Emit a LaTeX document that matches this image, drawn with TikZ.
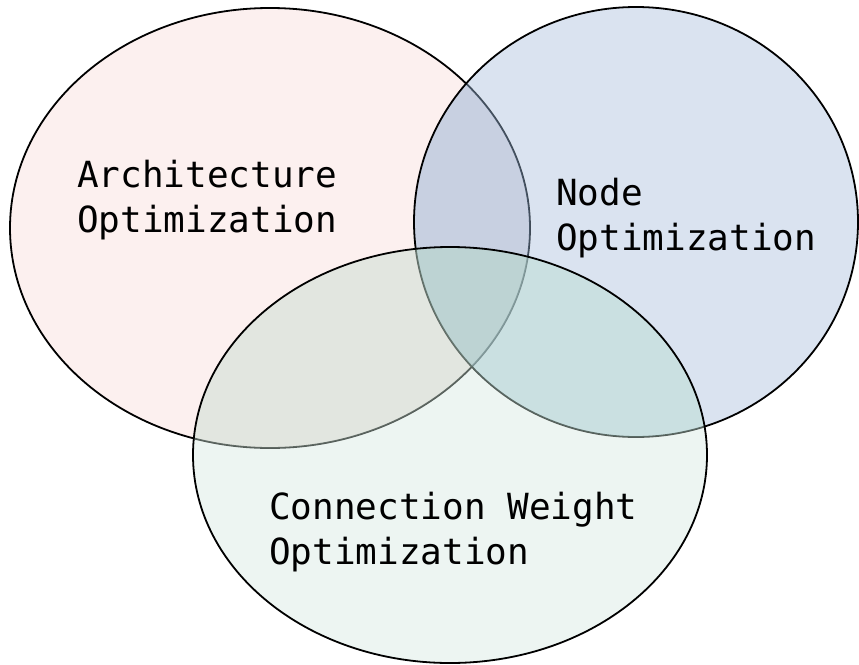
\documentclass[tikz,border=0pt]{standalone}
\usepackage{fontspec}
\setmonofont{DejaVu Sans Mono}
% set colours
\definecolor{archbase}{RGB}{252,240,239}
\definecolor{nodefill}{RGB}{162,185,217}
\definecolor{connfill}{RGB}{210,230,222}
% extra tints laid over the overlaps
\definecolor{archnode}{RGB}{109,151,197}
\definecolor{archconn}{RGB}{175,196,179}
\definecolor{nodeconn}{RGB}{135,201,187}
\tikzset{
  outline/.style={draw=black, line width=1.8pt},
  tintfill/.style={fill opacity=0.4},
  overlaptint/.style={fill opacity=0.15},
  setlabel/.style={font=\ttfamily\fontsize{36}{45}\selectfont, align=left,
                   anchor=base west, inner sep=0pt, text=black}
}
\begin{document}
\begin{tikzpicture}[x=1pt,y=-1pt]
  \useasboundingbox (0,0) rectangle (859,664);
  \def\archset{(270,228) ellipse [x radius=260, y radius=220]}
  \def\nodeset{(636,222) ellipse [x radius=222, y radius=215]}
  \def\connset{(450,455) ellipse [x radius=257, y radius=208]}
  % Architecture Optimization
  \fill[archbase] \archset;
  \draw[outline] \archset;
  % Node Optimization
  \fill[nodefill, tintfill] \nodeset;
  \begin{scope}
    \clip \archset;
    \fill[archnode, overlaptint] \nodeset;
  \end{scope}
  \draw[outline] \nodeset;
  % Connection Weight Optimization
  \fill[connfill, tintfill] \connset;
  \begin{scope}
    \clip \archset;
    \fill[archconn, overlaptint] \connset;
  \end{scope}
  \begin{scope}
    \clip \nodeset;
    \fill[nodeconn, overlaptint] \connset;
  \end{scope}
  \draw[outline] \connset;
  % labels
  \node[setlabel] (arch) at (77,232) {Architecture\\Optimization};
  \node[setlabel] (nodeopt) at (556,250) {Node\\Optimization};
  \node[setlabel] (conn) at (269,564) {Connection Weight\\Optimization};
\end{tikzpicture}
\end{document}
